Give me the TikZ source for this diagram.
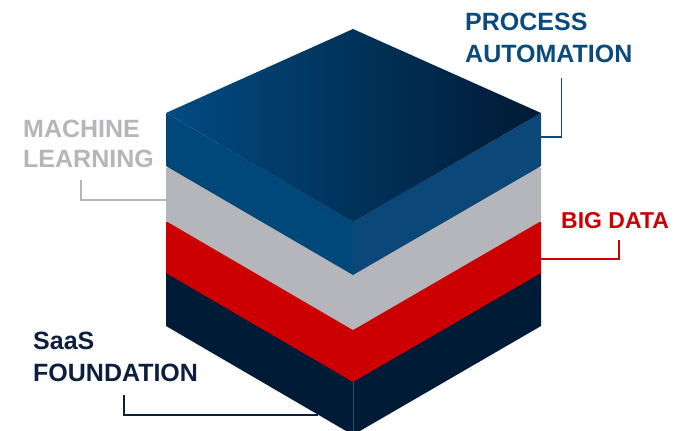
\documentclass[tikz,border=0pt]{standalone}
\usepackage{fontspec}
\setmainfont{Liberation Sans}

\definecolor{navy}{HTML}{001B35}
\definecolor{navyedge}{HTML}{3A4D6B}
\definecolor{bigred}{HTML}{CC0000}
\definecolor{mlgray}{HTML}{B5B6BC}
\definecolor{leftblue}{HTML}{00487A}
\definecolor{rightblue}{HTML}{0B4779}
\definecolor{topblueA}{HTML}{014B81}
\definecolor{topblueB}{HTML}{001A34}
\definecolor{pablue}{HTML}{0B4A7D}
\definecolor{sfnavy}{HTML}{0D1F3C}

\begin{document}
\begin{tikzpicture}[x=1pt, y=-1pt]

\def \cx {353}
\def \lx {166}
\def \rx {541}
\def \back {84}
\def \front {109}

\tikzset{layertext/.style = {anchor=north west, inner sep=0pt, align=left, font=\bfseries\fontsize{25}{32}\selectfont},
	leader/.style = {line width=1.5pt}}

\useasboundingbox (0,0) rectangle (675,431);

% lower layers, bottom first
\foreach \y/\t/\col in {273/53/navy, 222/51/bigred, 168/53/mlgray}
{
	\fill[\col] (\cx,\y-\back) -- (\rx,\y) -- (\rx,\y+\t) -- (\cx,\y+\t+\front)
		-- (\lx,\y+\t) -- (\lx,\y) -- cycle;
}
\draw[navyedge, line width=0.6pt] (\cx,382) -- (\cx,431);

% top block
\def \y {113}
\def \t {53}
\fill[leftblue] (\lx,\y) -- (\cx,\y+\front) -- (\cx,\y+\t+\front) -- (\lx,\y+\t) -- cycle;
\fill[rightblue] (\rx,\y) -- (\cx,\y+\front) -- (\cx,\y+\t+\front) -- (\rx,\y+\t) -- cycle;
\shade[left color=topblueA, right color=topblueB] (\cx,\y-\back) -- (\rx,\y) -- (\cx,\y+\front) -- (\lx,\y) -- cycle;

% labels
\node[layertext, pablue] (pa) at (465,13) {PROCESS\\AUTOMATION};
\node[layertext, mlgray, font=\bfseries\fontsize{25}{30}\selectfont] (ml) at (23,120) {MACHINE\\LEARNING};
\node[layertext, bigred, font=\bfseries\fontsize{23}{28}\selectfont] (bd) at (561,212) {BIG DATA};
\node[layertext, sfnavy] (sf) at (33,332) {SaaS\\FOUNDATION};

% leaders
\coordinate (paSide) at (\rx,137);
\coordinate (paEnd) at (561.7,78);
\coordinate (mlSide) at (\lx,200);
\coordinate (mlEnd) at (81,180);
\coordinate (bdSide) at (\rx,259);
\coordinate (bdEnd) at (619,240);
\coordinate (sfSide) at (318,415);
\coordinate (sfEnd) at (124,395);

\draw[leader, pablue] (paSide) -| (paEnd);
\draw[leader, mlgray] (mlSide) -| (mlEnd);
\draw[leader, bigred] (bdSide) -| (bdEnd);
\draw[leader, sfnavy] (sfSide) -| (sfEnd);

\end{tikzpicture}
\end{document}
